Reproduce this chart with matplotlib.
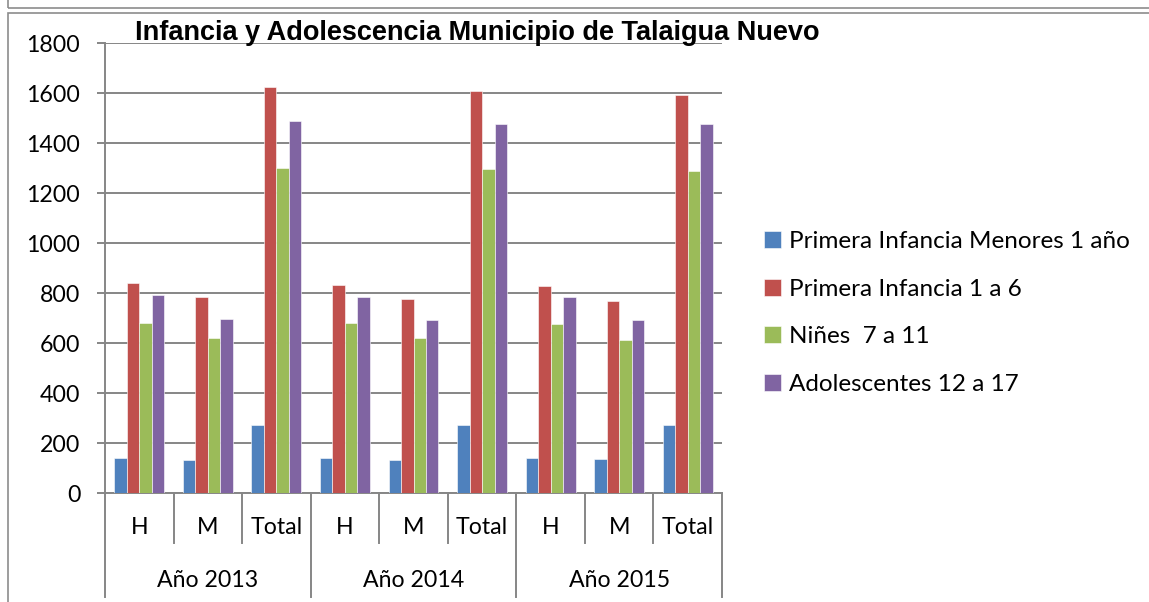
import numpy as np
import matplotlib.pyplot as plt
from matplotlib.patches import Rectangle
from matplotlib.transforms import blended_transform_factory

# data
years = ["Año 2013", "Año 2014", "Año 2015"]
subcats = ["H", "M", "Total"]
series_names = ["Primera Infancia Menores 1 año", "Primera Infancia 1 a 6",
                "Niñes  7 a 11", "Adolescentes 12 a 17"]
menores_1 = [139, 132, 271, 139, 133, 271, 140, 136, 273]
infancia_1_6 = [839, 783, 1623, 833, 777, 1609, 827, 768, 1592]
ninos_7_11 = [680, 619, 1300, 680, 619, 1297, 675, 613, 1287]
adolescentes = [791, 696, 1487, 785, 691, 1476, 783, 691, 1475]
colors = ["#4F81BD", "#C0504D", "#9BBB59", "#8064A2"]

plt.rcParams['font.family'] = ['Lato', 'DejaVu Sans']
grid_c = "#868686"
fs = 16.7

fig = plt.figure(figsize=(11.49, 6.02), dpi=100)
ax = fig.add_axes([105 / 1149, 109 / 602, 617 / 1149, 450 / 602])

# outer frames like the source sheet
fig.patches.append(Rectangle((8 / 1149, 594 / 602), 1.0, 0.1, transform=fig.transFigure,
                             fill=False, edgecolor="#8c8c8c", lw=1.2))
fig.patches.append(Rectangle((8 / 1149, -0.1), 1.0, (589 / 602) + 0.1, transform=fig.transFigure,
                             fill=False, edgecolor="#8c8c8c", lw=1.2))

x = np.arange(len(menores_1))
w = 0.182
all_series = [menores_1, infancia_1_6, ninos_7_11, adolescentes]
for i, (vals, name, c) in enumerate(zip(all_series, series_names, colors)):
    ax.bar(x + (i - 1.5) * w, vals, width=w, color=c, label=name,
           edgecolor="white", linewidth=0.4, zorder=3)

ax.set_xlim(-0.5, len(x) - 0.5)
ax.set_ylim(0, 1800)
ax.set_yticks(range(0, 1801, 200))
ax.yaxis.grid(True, color=grid_c, lw=1.4, zorder=0)
ax.set_xticks([])
for s in ["top", "right"]:
    ax.spines[s].set_visible(False)
for s in ["left", "bottom"]:
    ax.spines[s].set_color(grid_c)
    ax.spines[s].set_linewidth(1.4)
ax.tick_params(axis="y", length=5.8, color=grid_c, width=1.4, labelsize=fs, pad=12)

# multi-level category axis
tr = blended_transform_factory(ax.transData, ax.transAxes)
for b in np.arange(len(x) + 1) - 0.5:
    idx = int(b + 0.5)
    y_end = -0.232 if idx % 3 == 0 else -0.111
    ax.plot([b, b], [0, y_end], transform=tr, color=grid_c, lw=1.4, clip_on=False)
for j, xi in enumerate(x):
    ax.text(xi, -0.076, subcats[j % 3], transform=tr, ha="center", va="center", fontsize=fs)
for k, yr in enumerate(years):
    ax.text(3 * k + 1, -0.195, yr, transform=tr, ha="center", va="center", fontsize=fs)

fig.text(477 / 1149, 1 - 33 / 602, "Infancia y Adolescencia Municipio de Talaigua Nuevo",
         ha="center", va="center", fontsize=19.5, fontweight="bold", family="Liberation Sans")

ax.legend(loc="upper left", bbox_to_anchor=(742 / 1149, 1 - 209 / 602),
          bbox_transform=fig.transFigure, frameon=False, fontsize=17.5,
          handlelength=0.7, handleheight=0.7, handletextpad=0.35, labelspacing=1.1)

fig.savefig("out.png", dpi=100)
